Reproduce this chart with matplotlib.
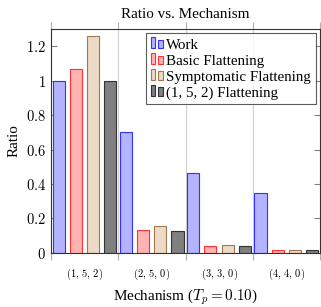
import numpy as np
import matplotlib.pyplot as plt
from matplotlib.ticker import FuncFormatter
from matplotlib.legend_handler import HandlerBase
from matplotlib.patches import Rectangle

plt.rcParams['font.family'] = 'Liberation Serif'
plt.rcParams['mathtext.fontset'] = 'cm'

mechanisms = ['$(1,\\,5,\\,2)$', '$(2,\\,5,\\,0)$', '$(3,\\,3,\\,0)$', '$(4,\\,4,\\,0)$']
series = ['Work', 'Basic Flattening', 'Symptomatic Flattening', '(1, 5, 2) Flattening']
work = [1.0, 0.70, 0.465, 0.35]
basic = [1.07, 0.133, 0.04, 0.019]
symptomatic = [1.26, 0.156, 0.048, 0.02]
flat152 = [1.0, 0.125, 0.038, 0.018]

fills = ['#b3b3ff', '#ffb3b3', '#ecd9c6', '#808080']
edges = ['#3333ff', '#ff3333', '#a07850', '#333333']
offsets = [-0.385, -0.13, 0.125, 0.38]


# pgfplots-style legend image: two little bars
class TwoBars(HandlerBase):
    def create_artists(self, legend, orig, xd, yd, w, h, fontsize, trans):
        bw = w * 0.4
        out = []
        for i, hh in enumerate([1.0, 0.8]):
            r = Rectangle((xd + i * (w - bw), yd), bw, h * hh,
                          facecolor=orig.get_facecolor(), edgecolor=orig.get_edgecolor(),
                          linewidth=0.8, transform=trans)
            out.append(r)
        return out


fig = plt.figure(figsize=(3.21, 3.07), dpi=100)
ax = fig.add_axes([0.159, 0.176, 0.838, 0.730])

x = np.arange(len(mechanisms))
handles = []
for vals, name, fc, ec, off in zip([work, basic, symptomatic, flat152], series, fills, edges, offsets):
    b = ax.bar(x + off, vals, 0.18, color=fc, edgecolor=ec, linewidth=0.8, label=name)
    handles.append(b.patches[0])

ax.set_xlim(-0.5, 3.5)
ax.set_ylim(0, 1.3)
ax.set_xticks(np.arange(-0.5, 4.0, 1.0))
ax.set_xticklabels([])
ax.set_xticks(x, minor=True)
ax.set_xticklabels(mechanisms, minor=True, fontsize=7.5)
ax.tick_params(axis='x', which='major', direction='out', length=5, color='#b0b0b0', top=True)
ax.tick_params(axis='x', which='minor', length=0, pad=10)
ax.xaxis.grid(True, which='major', color='#d0d0d0', linewidth=0.8)
ax.set_axisbelow(True)

ax.set_yticks([0, 0.2, 0.4, 0.6, 0.8, 1.0, 1.2])
ax.yaxis.set_major_formatter(FuncFormatter(lambda v, p: '$%g$' % round(v, 2)))
ax.tick_params(axis='y', direction='in', length=4, color='#808080', right=True, labelsize=10.5)

for s in ax.spines.values():
    s.set_linewidth(0.8)
    s.set_color('#333333')

ax.set_title('Ratio vs. Mechanism', fontsize=10.9, pad=8)
ax.set_ylabel('Ratio', fontsize=10.9)
ax.set_xlabel('Mechanism ($T_p = 0.10$)', fontsize=10.9, labelpad=4)

leg = ax.legend(handles, series, loc='upper right', fontsize=10.8, fancybox=False,
                edgecolor='#333333', handler_map={Rectangle: TwoBars()},
                handlelength=0.8, handleheight=0.75, handletextpad=0.25,
                borderpad=0.3, labelspacing=0.15, borderaxespad=0.3)
leg.get_frame().set_linewidth(0.8)

fig.savefig('out.png', dpi=100)
